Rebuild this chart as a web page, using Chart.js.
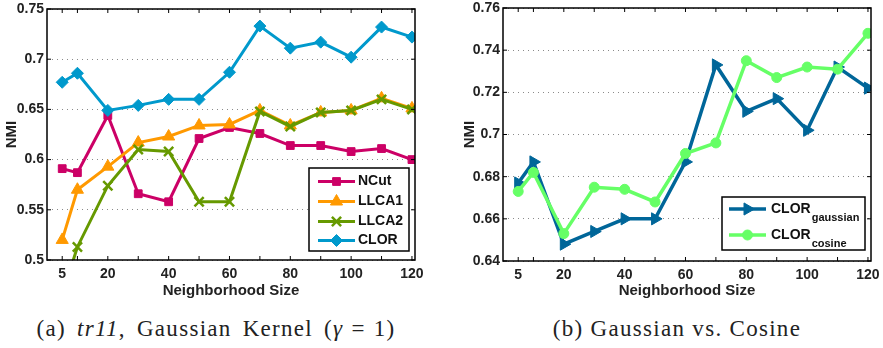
<!DOCTYPE html>
<html>
<head>
<meta charset="utf-8">
<script src="https://cdn.jsdelivr.net/npm/chart.js@4.4.0/dist/chart.umd.min.js"></script>
<style>
body { margin: 0; background: #fff; }
#wrap { position: relative; width: 883px; height: 348px; overflow: hidden; }
canvas { position: absolute; top: 0; }
#chartA { left: 0; }
#chartB { left: 440px; }
.cap { position: absolute; top: 317px; line-height: 24px; font-family: 'Liberation Serif', serif; font-size: 23px; letter-spacing: 1.3px; color: #222; white-space: nowrap; transform: translateX(-50%); }
.op { margin: 0 8px; }
</style>
</head>
<body>
<div id="wrap">
  <canvas id="chartA" width="440" height="300"></canvas>
  <canvas id="chartB" width="443" height="300"></canvas>
  <div class="cap" style="left:216px; word-spacing:4px">(a) <i>tr11</i>, Gaussian Kernel (<i>γ</i><span class="op">=</span>1)</div>
  <div class="cap" style="left:677px">(b) Gaussian vs. Cosine</div>
</div>
<script>
// Neighborhood sizes (x) and NMI values
const sizes = [5, 10, 20, 30, 40, 50, 60, 70, 80, 90, 100, 110, 120];
const xLabelled = [5, 20, 40, 60, 80, 100, 120];

const ncut  = [0.591, 0.587, 0.644, 0.566, 0.558, 0.621, 0.632, 0.626, 0.614, 0.614, 0.608, 0.611, 0.600];
const llca1 = [0.520, 0.570, 0.593, 0.617, 0.623, 0.634, 0.635, 0.649, 0.634, 0.647, 0.649, 0.661, 0.651];
const llca2 = [0.465, 0.513, 0.574, 0.610, 0.608, 0.558, 0.558, 0.648, 0.633, 0.647, 0.649, 0.660, 0.650];
const clor  = [0.677, 0.686, 0.649, 0.654, 0.660, 0.660, 0.687, 0.733, 0.711, 0.717, 0.702, 0.732, 0.722];

const clorGaussian = [0.677, 0.687, 0.648, 0.654, 0.660, 0.660, 0.687, 0.733, 0.711, 0.717, 0.702, 0.732, 0.722];
const clorCosine   = [0.673, 0.682, 0.653, 0.675, 0.674, 0.668, 0.691, 0.696, 0.735, 0.727, 0.732, 0.731, 0.748];

const nmiTicksA = [0.5, 0.55, 0.6, 0.65, 0.7, 0.75];
const nmiTicksB = [0.64, 0.66, 0.68, 0.7, 0.72, 0.74, 0.76];

Chart.defaults.font.family = '"Liberation Sans", Arial, sans-serif';
Chart.defaults.font.size = 14;
Chart.defaults.font.weight = 'bold';
Chart.defaults.color = '#222';

// one series
function series(label, values, color, style, radius, order, extra) {
    return Object.assign({
        label: label,
        data: values.map((v, i) => ({ x: sizes[i], y: v })),
        borderColor: color,
        backgroundColor: color,
        borderWidth: 3,
        pointStyle: style,
        pointRadius: radius,
        pointHoverRadius: radius,
        pointBackgroundColor: color,
        pointBorderColor: color,
        pointBorderWidth: 1,
        pointRotation: 0,
        tension: 0,
        order: order
    }, extra || {});
}

// axes in the matlab look
function makeScales(yTicks, yWidth, xHeight, yTitlePad, xTitlePad) {
    return {
        x: {
            type: 'linear', min: 0, max: 121,
            afterBuildTicks: s => { s.ticks = sizes.map(v => ({ value: v })); },
            afterFit: s => { s.height = xHeight; s.paddingLeft = 0; s.paddingRight = 0; },
            ticks: { autoSkip: false, maxRotation: 0, padding: -2, callback: v => xLabelled.includes(v) ? String(v) : '' },
            grid: { display: false },
            border: { display: false },
            title: { display: true, text: 'Neighborhood Size', font: { size: 15 }, padding: { top: xTitlePad, bottom: 0 } }
        },
        y: {
            min: yTicks[0], max: yTicks[yTicks.length - 1],
            afterBuildTicks: s => { s.ticks = yTicks.map(v => ({ value: v })); },
            afterFit: s => { s.width = yWidth; s.paddingTop = 0; s.paddingBottom = 0; },
            ticks: { padding: 3, callback: v => String(+v.toFixed(2)) },
            grid: { color: '#8a8a8a', lineWidth: 1, drawTicks: false },
            border: { display: false, dash: [1, 4] },
            title: { display: true, text: 'NMI', font: { size: 15 }, padding: { top: yTitlePad, bottom: 0 } }
        }
    };
}

// box, inner tick marks and the boxed legend
const matlabFrame = {
    id: 'matlabFrame',
    afterDraw(chart, args, opts) {
        const { ctx, chartArea: a, scales } = chart;
        ctx.save();
        ctx.strokeStyle = '#000';
        ctx.lineWidth = 1;
        ctx.beginPath();
        scales.x.ticks.forEach(t => {
            const x = scales.x.getPixelForValue(t.value);
            ctx.moveTo(x, a.bottom); ctx.lineTo(x, a.bottom - 4);
            ctx.moveTo(x, a.top); ctx.lineTo(x, a.top + 4);
        });
        scales.y.ticks.forEach(t => {
            const y = scales.y.getPixelForValue(t.value);
            ctx.moveTo(a.left, y); ctx.lineTo(a.left + 4, y);
            ctx.moveTo(a.right, y); ctx.lineTo(a.right - 4, y);
        });
        ctx.stroke();
        ctx.lineWidth = 1.5;
        ctx.strokeRect(a.left, a.top, a.right - a.left, a.bottom - a.top);

        const [bx, by, bw, bh] = opts.box;
        ctx.fillStyle = '#fff';
        ctx.fillRect(bx, by, bw, bh);
        ctx.strokeStyle = '#000';
        ctx.lineWidth = 1.5;
        ctx.strokeRect(bx, by, bw, bh);
        chart.data.datasets.forEach((ds, i) => {
            const y = opts.rows[i];
            ctx.strokeStyle = ds.borderColor;
            ctx.lineWidth = ds.borderWidth;
            ctx.beginPath();
            ctx.moveTo(opts.line[0], y);
            ctx.lineTo(opts.line[1], y);
            ctx.stroke();
            ctx.fillStyle = ds.pointBackgroundColor;
            ctx.strokeStyle = ds.pointBorderColor;
            ctx.lineWidth = ds.pointBorderWidth;
            Chart.helpers.drawPoint(ctx, {
                pointStyle: ds.pointStyle, radius: ds.pointRadius,
                rotation: ds.pointRotation, borderWidth: ds.pointBorderWidth
            }, (opts.line[0] + opts.line[1]) / 2, y);
            const [main, sub] = ds.label.split('_');
            ctx.fillStyle = '#111';
            ctx.textAlign = 'left';
            ctx.textBaseline = 'middle';
            ctx.font = 'bold 14px "Liberation Sans", Arial, sans-serif';
            ctx.fillText(main, opts.textX, y);
            if (sub) {
                const w = ctx.measureText(main).width;
                ctx.font = 'bold 11px "Liberation Sans", Arial, sans-serif';
                ctx.fillText(sub, opts.textX + w + 1, y + 9);
            }
        });
        ctx.restore();
    }
};

new Chart(document.getElementById('chartA'), {
    type: 'line',
    data: {
        datasets: [
            series('NCut', ncut, '#cc0066', 'rect', 5.5, 4),
            series('LLCA1', llca1, '#ff9900', 'triangle', 7, 3),
            series('LLCA2', llca2, '#669900', 'crossRot', 6.5, 2, { pointBorderWidth: 2.5 }),
            series('CLOR', clor, '#0099cc', 'rectRot', 6, 1)
        ]
    },
    options: {
        responsive: false,
        animation: false,
        events: [],
        layout: { padding: { left: 0, top: 7, right: 25, bottom: 0 } },
        scales: makeScales(nmiTicksA, 47, 40, 3, 1.5),
        plugins: {
            legend: { display: false },
            tooltip: { enabled: false },
            matlabFrame: { box: [309, 168, 100, 83], rows: [181.5, 201.5, 221.5, 240.5], line: [318, 355], textX: 358 }
        }
    },
    plugins: [matlabFrame]
});

new Chart(document.getElementById('chartB'), {
    type: 'line',
    data: {
        datasets: [
            series('CLOR_gaussian', clorGaussian, '#006699', 'triangle', 7, 2, { pointRotation: 90, borderWidth: 3.5 }),
            series('CLOR_cosine', clorCosine, '#66ff66', 'circle', 5, 1, { borderWidth: 3.5 })
        ]
    },
    options: {
        responsive: false,
        animation: false,
        events: [],
        layout: { padding: { left: 0, top: 7, right: 12, bottom: 0 } },
        scales: makeScales(nmiTicksB, 63, 39, 21, 0),
        plugins: {
            legend: { display: false },
            tooltip: { enabled: false },
            matlabFrame: { box: [282, 197, 143, 53], rows: [209, 235], line: [289, 326], textX: 331 }
        }
    },
    plugins: [matlabFrame]
});
</script>
</body>
</html>
